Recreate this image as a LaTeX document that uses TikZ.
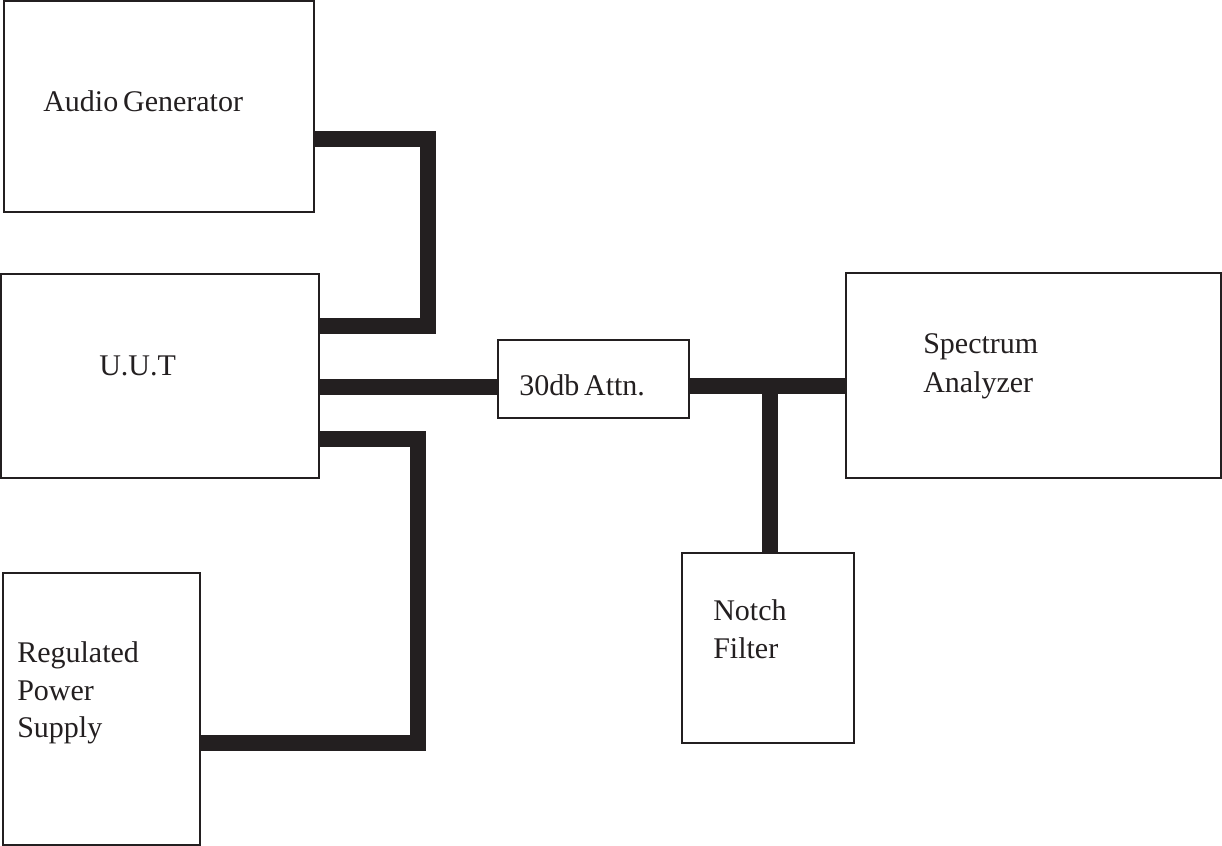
\documentclass[tikz,border=0pt]{standalone}
\usepackage{fontspec}
\setmainfont{Liberation Serif}
\definecolor{ink}{HTML}{231F20}
\begin{document}
\begin{tikzpicture}[x=0.75pt,y=-0.75pt,
  box/.style={draw=ink,line width=1.5pt,fill=white,inner sep=0pt,outer sep=0pt},
  wire/.style={draw=ink,line width=12pt,line cap=butt,line join=miter},
  lbl/.style={anchor=base west,inner sep=0pt,text=ink,font=\fontsize{22.5}{27}\selectfont}]
\useasboundingbox (0,0) rectangle (1222,846);
% boxes
\node[box,minimum width=232.5pt,minimum height=158.25pt] (ag) at (159,106.5) {};
\node[box,minimum width=238.5pt,minimum height=153pt] (uut) at (160,376) {};
\node[box,minimum width=147.75pt,minimum height=204pt] (rps) at (101.5,709) {};
\node[box,minimum width=143.25pt,minimum height=58.5pt] (att) at (593.5,379) {};
\node[box,minimum width=281.25pt,minimum height=153.75pt] (sa) at (1033.5,375.5) {};
\node[box,minimum width=129pt,minimum height=142.5pt] (nf) at (768,648) {};
% bend points
\coordinate (b1) at (428,139);
\coordinate (b2) at (428,326);
\coordinate (p1) at (418,439);
\coordinate (p2) at (418,743);
\coordinate (uo) at (0,387);
\coordinate (j) at (770,385.5);
% connectors
\draw[wire] (ag.east |- b1) -- (b1) -- (b2) -- (uut.east |- b2);
\draw[wire] (uut.east |- uo) -- (att.west |- uo);
\draw[wire] (uut.east |- p1) -- (p1) -- (p2) -- (rps.east |- p2);
\draw[wire] (att.east |- j) -- (sa.west |- j);
\draw[wire] (j) -- (nf.north -| j);
% labels
\node[lbl] (tag) at (43,111) {Audio\hspace{-2pt} Generator};
\node[lbl] (tuut) at (99,375) {U.U.T};
\node[lbl] (tatt) at (519,395) {30db\hspace{-2pt} Attn.};
\node[lbl] (tsa1) at (923,353) {Spectrum};
\node[lbl] (tsa2) at (923,392) {Analyzer};
\node[lbl] (tnf1) at (713,620) {Notch};
\node[lbl] (tnf2) at (713,658) {Filter};
\node[lbl] (trp1) at (17,662) {Regulated};
\node[lbl] (trp2) at (17,700) {Power};
\node[lbl] (trp3) at (17,737) {Supply};
\end{tikzpicture}
\end{document}
